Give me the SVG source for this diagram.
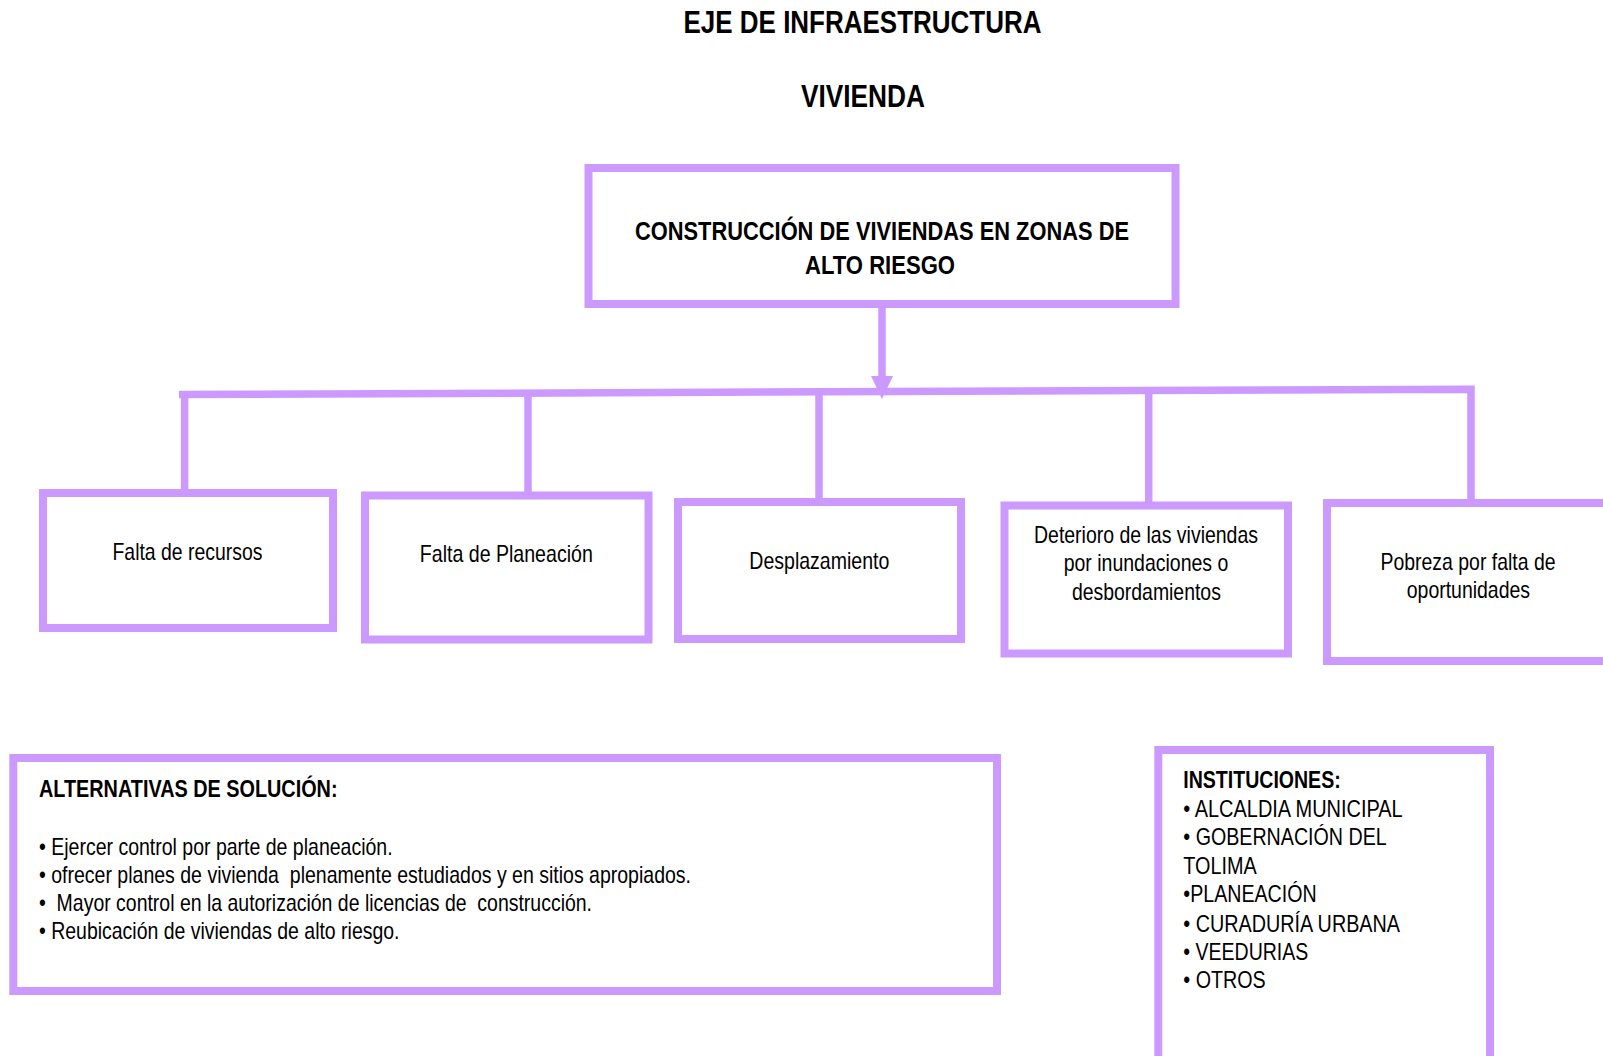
<svg xmlns="http://www.w3.org/2000/svg" width="1603" height="1056" viewBox="0 0 1603 1056">
<style>
.box{fill:#ffffff;stroke:#cc99ff;stroke-width:8}
.con{fill:none;stroke:#cc99ff;stroke-width:7.5;stroke-linejoin:miter;stroke-linecap:butt}
.ah{fill:#cc99ff}
text{font-family:"Liberation Sans Narrow","Liberation Sans",Arial,sans-serif;fill:#000000;white-space:pre}
.t{font-size:32px;font-weight:bold;text-anchor:middle}
.b{font-size:26.5px;font-weight:bold;text-anchor:middle}
.n{font-size:24px;text-anchor:middle}
.l{font-size:24px}
.lb{font-size:24px;font-weight:bold}
</style>
<rect width="1603" height="1056" fill="#ffffff"/>
<g id="title">
<text class="t" x="862.5" y="33" textLength="358" lengthAdjust="spacingAndGlyphs">EJE DE INFRAESTRUCTURA</text>
<text class="t" x="863" y="107" textLength="124" lengthAdjust="spacingAndGlyphs">VIVIENDA</text>
</g>
<g id="connectors">
<path class="con" d="M882 306 V380"/>
<polygon class="ah" points="871,376 893,376 882,399"/>
<path class="con" d="M179 394.5 L1471 389.2 L1471 500"/>
<path class="con" d="M184.6 394 V490"/>
<path class="con" d="M528 393 V500"/>
<path class="con" d="M819 392 V499"/>
<path class="con" d="M1148.7 391 V502"/>
</g>
<g id="n0">
<rect class="box" x="588.5" y="168" width="587" height="136"/>
<text class="b" x="882" y="239.5" textLength="494" lengthAdjust="spacingAndGlyphs">CONSTRUCCIÓN DE VIVIENDAS EN ZONAS DE</text>
<text class="b" x="880" y="274" textLength="150" lengthAdjust="spacingAndGlyphs">ALTO RIESGO</text>
</g>
<g id="n1">
<rect class="box" x="43" y="493" width="290" height="135"/>
<text class="n" x="187.5" y="560" textLength="150" lengthAdjust="spacingAndGlyphs">Falta de recursos</text>
</g>
<g id="n2">
<rect class="box" x="365" y="495.5" width="283.5" height="144"/>
<text class="n" x="506.3" y="561.7" textLength="173" lengthAdjust="spacingAndGlyphs">Falta de Planeación</text>
</g>
<g id="n3">
<rect class="box" x="678" y="502" width="283" height="137"/>
<text class="n" x="819.3" y="569" textLength="140" lengthAdjust="spacingAndGlyphs">Desplazamiento</text>
</g>
<g id="n4">
<rect class="box" x="1004.5" y="505.5" width="283.5" height="148"/>
<text class="n" x="1146" y="542.7" textLength="224" lengthAdjust="spacingAndGlyphs">Deterioro de las viviendas</text>
<text class="n" x="1146" y="571" textLength="164.6" lengthAdjust="spacingAndGlyphs">por inundaciones o</text>
<text class="n" x="1146.4" y="600" textLength="149" lengthAdjust="spacingAndGlyphs">desbordamientos</text>
</g>
<g id="n5">
<rect class="box" x="1327" y="503" width="282" height="158"/>
<text class="n" x="1468" y="570" textLength="175" lengthAdjust="spacingAndGlyphs">Pobreza por falta de</text>
<text class="n" x="1468.4" y="597.7" textLength="123.3" lengthAdjust="spacingAndGlyphs">oportunidades</text>
</g>
<g id="alternativas">
<rect class="box" x="13.3" y="758" width="983.7" height="233"/>
<text class="lb" x="39" y="797" textLength="298.5" lengthAdjust="spacingAndGlyphs">ALTERNATIVAS DE SOLUCIÓN:</text>
<text class="l" x="39" y="855" textLength="353.6" lengthAdjust="spacingAndGlyphs">• Ejercer control por parte de planeación.</text>
<text class="l" x="39" y="883" textLength="652" lengthAdjust="spacingAndGlyphs">• ofrecer planes de vivienda  plenamente estudiados y en sitios apropiados.</text>
<text class="l" x="39" y="911" textLength="553" lengthAdjust="spacingAndGlyphs">•  Mayor control en la autorización de licencias de  construcción.</text>
<text class="l" x="39" y="939" textLength="360.5" lengthAdjust="spacingAndGlyphs">• Reubicación de viviendas de alto riesgo.</text>
</g>
<g id="instituciones">
<rect class="box" x="1158.3" y="750" width="331.7" height="312"/>
<text class="lb" x="1183.3" y="788.3" textLength="157.4" lengthAdjust="spacingAndGlyphs">INSTITUCIONES:</text>
<text class="l" x="1183.3" y="816.7" textLength="219.4" lengthAdjust="spacingAndGlyphs">• ALCALDIA MUNICIPAL</text>
<text class="l" x="1183.3" y="845" textLength="203.4" lengthAdjust="spacingAndGlyphs">• GOBERNACIÓN DEL</text>
<text class="l" x="1183.3" y="874" textLength="73.4" lengthAdjust="spacingAndGlyphs">TOLIMA</text>
<text class="l" x="1183.3" y="902.3" textLength="133.4" lengthAdjust="spacingAndGlyphs">•PLANEACIÓN</text>
<text class="l" x="1183.3" y="931.7" textLength="216.7" lengthAdjust="spacingAndGlyphs">• CURADURÍA URBANA</text>
<text class="l" x="1183.3" y="960" textLength="125" lengthAdjust="spacingAndGlyphs">• VEEDURIAS</text>
<text class="l" x="1183.3" y="988.3" textLength="82.4" lengthAdjust="spacingAndGlyphs">• OTROS</text>
</g>
</svg>
